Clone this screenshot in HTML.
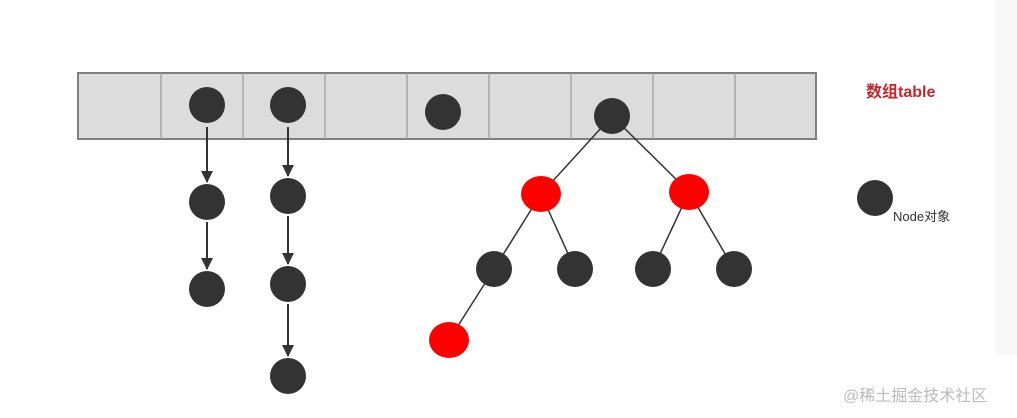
<!DOCTYPE html>
<html><head><style>html,body{margin:0;background:#fff;width:1017px;height:418px;overflow:hidden}</style></head><body>
<svg width="1017" height="418" xmlns="http://www.w3.org/2000/svg" font-family="Liberation Sans, Noto Sans CJK SC, sans-serif" style="display:block">
<defs><marker id="a" markerWidth="12" markerHeight="12" refX="11" refY="6" orient="auto" markerUnits="userSpaceOnUse"><path d="M0,0 L12,6 L0,12 z" fill="#333"/></marker></defs>
<rect x="995" y="0" width="22" height="355" fill="#f8f8f8"/>
<rect x="78" y="73" width="738" height="66" fill="#dcdcdc" stroke="#808080" stroke-width="2"/>
<g stroke="#999" stroke-width="1.2">
<line x1="161" y1="73" x2="161" y2="139"/><line x1="243" y1="73" x2="243" y2="139"/><line x1="325" y1="73" x2="325" y2="139"/><line x1="407" y1="73" x2="407" y2="139"/><line x1="489" y1="73" x2="489" y2="139"/><line x1="571" y1="73" x2="571" y2="139"/><line x1="653" y1="73" x2="653" y2="139"/><line x1="735" y1="73" x2="735" y2="139"/>
</g>
<g stroke="#333" stroke-width="2" marker-end="url(#a)">
<line x1="207" y1="127" x2="207" y2="182"/><line x1="207" y1="222" x2="207" y2="269"/>
<line x1="288" y1="127" x2="288" y2="176"/><line x1="288" y1="216" x2="288" y2="264"/><line x1="288" y1="304" x2="288" y2="356"/>
</g>
<g stroke="#333" stroke-width="1.5">
<line x1="612" y1="116" x2="541" y2="194"/><line x1="612" y1="116" x2="689" y2="192"/>
<line x1="541" y1="194" x2="494" y2="269"/><line x1="541" y1="194" x2="575" y2="269"/>
<line x1="689" y1="192" x2="653" y2="269"/><line x1="689" y1="192" x2="734" y2="269"/>
<line x1="494" y1="269" x2="449" y2="340"/>
</g>
<g fill="#333">
<circle cx="207" cy="105" r="18"/><circle cx="288" cy="105" r="18"/><circle cx="443" cy="112" r="18"/><circle cx="612" cy="116" r="18"/>
<circle cx="207" cy="202" r="18"/><circle cx="207" cy="289" r="18"/>
<circle cx="288" cy="196" r="18"/><circle cx="288" cy="284" r="18"/><circle cx="288" cy="376" r="18"/>
<circle cx="494" cy="269" r="18"/><circle cx="575" cy="269" r="18"/><circle cx="653" cy="269" r="18"/><circle cx="734" cy="269" r="18"/>
<circle cx="875" cy="198" r="18"/>
</g>
<g fill="#f00">
<ellipse cx="541" cy="194" rx="20" ry="18"/><ellipse cx="689" cy="192" rx="20" ry="18"/><ellipse cx="449" cy="340" rx="20" ry="18"/>
</g>
<text x="866" y="97" font-size="16" font-weight="bold" fill="#c0282d">数组table</text>
<text x="893" y="221" font-size="13" fill="#333">Node对象</text>
<text x="843" y="401" font-size="16" fill="#bbb">@稀土掘金技术社区</text>
</svg>
</body></html>
